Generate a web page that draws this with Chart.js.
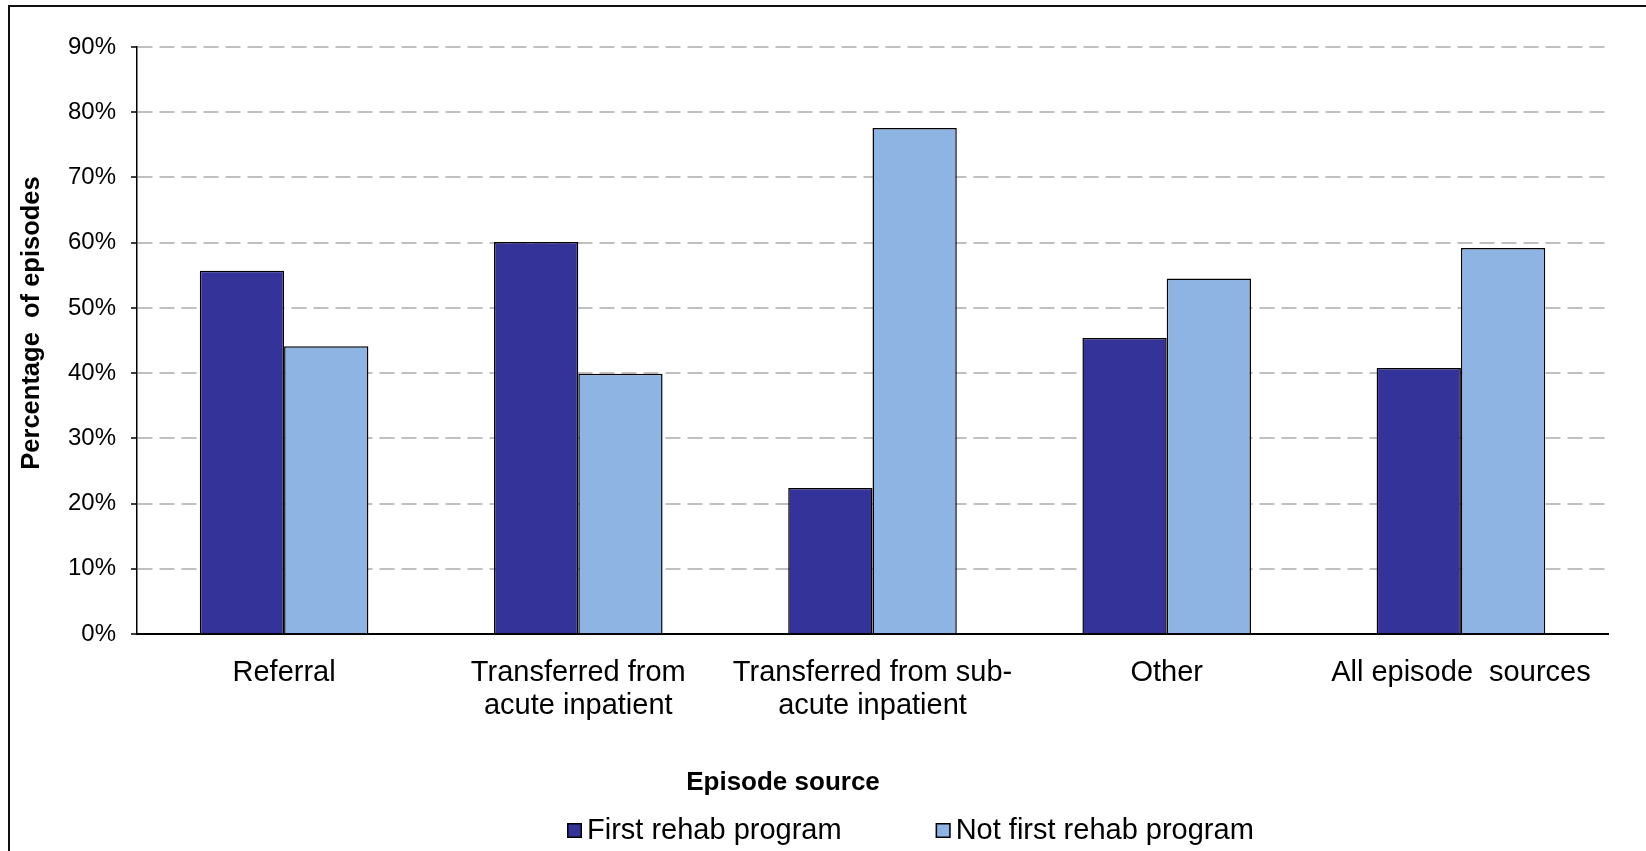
<!DOCTYPE html>
<html><head><meta charset="utf-8">
<script src="https://cdn.jsdelivr.net/npm/chart.js@4"></script>
<style>
html,body{margin:0;padding:0;background:#fff;overflow:hidden;width:1646px;height:851px;}
#frame{position:absolute;left:8px;top:5px;width:2000px;height:2000px;border:2px solid #111;}
#wrap{position:absolute;left:0;top:0;width:1646px;height:851px;}
</style></head><body>
<div id="frame"></div>
<div id="wrap"><canvas id="c" width="1646" height="851"></canvas></div>
<script>
const categories = ["Referral", ["Transferred from", "acute inpatient"], ["Transferred from sub-", "acute inpatient"], "Other", "All episode  sources"];
const seriesNames = ["First rehab program", "Not first rehab program"];
const firstRehab = [55.7, 60.1, 22.4, 45.4, 40.8];
const notFirstRehab = [44.1, 39.9, 77.6, 54.5, 59.2];
const yTickValues = [0, 10, 20, 30, 40, 50, 60, 70, 80, 90];
const xTitle = "Episode source";
const yTitle = "Percentage  of episodes";
const seriesColors = ["#333399", "#8EB4E3"];

const FONT = '"Liberation Sans", Arial, sans-serif';

const textPlugin = {
  id: 'texts',
  afterDraw(chart) {
    const ctx = chart.ctx;
    ctx.save();
    ctx.fillStyle = '#000';
    // y title
    ctx.save();
    ctx.font = 'bold 25.5px ' + FONT;
    ctx.translate(32, 323);
    ctx.rotate(-Math.PI / 2);
    ctx.textAlign = 'center';
    ctx.textBaseline = 'middle';
    ctx.fillText(yTitle, 0, 0);
    ctx.restore();
    // x title
    ctx.font = 'bold 26px ' + FONT;
    ctx.textAlign = 'center';
    ctx.textBaseline = 'middle';
    ctx.fillText(xTitle, 783, 783);
    // legend
    ctx.font = '29px ' + FONT;
    ctx.textAlign = 'left';
    let x = 567;
    const y = 830;
    chart.data.datasets.forEach((ds) => {
      ctx.fillStyle = ds.backgroundColor;
      ctx.fillRect(x, y - 7, 15, 15);
      ctx.strokeStyle = '#000';
      ctx.lineWidth = 1.5;
      ctx.strokeRect(x + 0.75, y - 6.25, 13.5, 13.5);
      ctx.fillStyle = '#000';
      ctx.fillText(ds.label, x + 20, y + 1);
      x += 20 + ctx.measureText(ds.label).width + 94;
    });
    ctx.restore();
  }
};

new Chart(document.getElementById('c'), {
  type: 'bar',
  data: {
    labels: categories,
    datasets: [
      { label: seriesNames[0], data: firstRehab, backgroundColor: seriesColors[0], borderColor: '#000', borderWidth: 1.5, categoryPercentage: 0.573, barPercentage: 1.0 },
      { label: seriesNames[1], data: notFirstRehab, backgroundColor: seriesColors[1], borderColor: '#000', borderWidth: 1.5, categoryPercentage: 0.573, barPercentage: 1.0 }
    ]
  },
  options: {
    responsive: false,
    animation: false,
    devicePixelRatio: 1,
    layout: { padding: { left: 0, right: 38, top: 47, bottom: 117 } },
    plugins: { legend: { display: false }, tooltip: { enabled: false }, title: { display: false } },
    scales: {
      x: {
        grid: { display: false, drawTicks: false },
        border: { display: true, color: '#000', width: 2 },
        ticks: { color: '#000', font: { family: FONT, size: 29, lineHeight: 1.16 }, padding: 22, maxRotation: 0, autoSkip: false },
        afterFit(scale) { scale.height = 100; }
      },
      y: {
        min: 0, max: 90,
        afterBuildTicks(scale) { scale.ticks = yTickValues.map(v => ({ value: v })); },
        ticks: { color: '#000', font: { family: FONT, size: 24 }, padding: 15, callback: v => v + '%' },
        grid: {
          color: (c) => c.tick && c.tick.value === 0 ? 'rgba(0,0,0,0)' : '#C0C0C0',
          lineWidth: 2,
          drawTicks: true, tickLength: 6, tickColor: '#000', tickWidth: 1.5, tickBorderDash: []
        },
        border: { display: true, color: '#000', width: 1.5, dash: [15, 7] },
        afterFit(scale) { scale.width = 137; }
      }
    }
  },
  plugins: [textPlugin]
});
</script>
</body></html>
